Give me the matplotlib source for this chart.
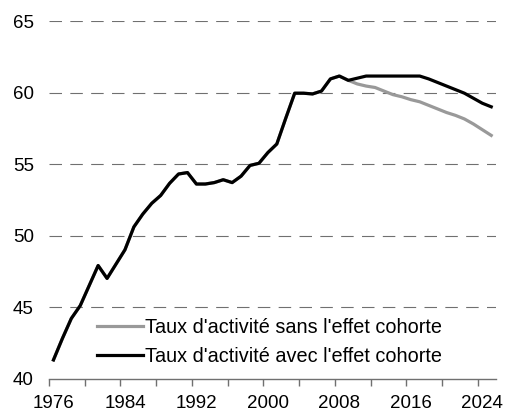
import numpy as np
import matplotlib.pyplot as plt

plt.rcParams['font.family'] = ['Liberation Sans', 'DejaVu Sans']
plt.rcParams['lines.scale_dashes'] = False

years = list(range(1976, 2026))

# taux d'activite avec l'effet cohorte (1976-2025)
avec_cohorte = [41.3, 42.8, 44.2, 45.1, 46.5, 47.9, 47.0, 48.0, 49.0, 50.6,
                51.5, 52.25, 52.8, 53.65, 54.3, 54.4, 53.6, 53.6, 53.7, 53.9,
                53.7, 54.15, 54.9, 55.05, 55.8, 56.4, 58.2, 59.95, 59.95, 59.9,
                60.1, 60.95, 61.15, 60.85, 61.0, 61.15, 61.15, 61.15, 61.15, 61.15,
                61.15, 61.15, 60.95, 60.7, 60.45, 60.2, 59.95, 59.6, 59.25, 59.0]

# sans l'effet cohorte : identique jusqu'en 2009 puis diverge
sans_cohorte = avec_cohorte[:34] + [60.6, 60.45, 60.35, 60.1, 59.85, 59.7, 59.5, 59.35,
                                    59.1, 58.85, 58.6, 58.4, 58.15, 57.8, 57.4, 57.0]

label_sans = "Taux d'activité sans l'effet cohorte"
label_avec = "Taux d'activité avec l'effet cohorte"

fig = plt.figure(figsize=(5.06, 4.15), dpi=100)
ax = fig.add_axes([49 / 506, 1 - 378.5 / 415, (495.7 - 49) / 506, (378.5 - 21) / 415])

ax.plot(years, sans_cohorte, color='#999999', lw=2.3, label=label_sans,
        solid_joinstyle='round', zorder=3)
ax.plot(years, avec_cohorte, color='black', lw=2.3, label=label_avec,
        solid_joinstyle='round', zorder=4)

ax.set_xlim(1975.5, 2025.5)
ax.set_ylim(40, 65)

# grille horizontale en tirets
for v in [45, 50, 55, 60, 65]:
    ax.axhline(v, color='#707070', lw=0.8, linestyle=(0, (9, 6)), zorder=1)

for s in ['left', 'right', 'top']:
    ax.spines[s].set_visible(False)
ax.spines['bottom'].set_color('#707070')
ax.spines['bottom'].set_linewidth(1.0)

ax.set_yticks([40, 45, 50, 55, 60, 65])
ax.tick_params(axis='y', length=0, pad=11, labelsize=13.5)

# graduations entre les annees, etiquettes centrees sur l'annee
ax.set_xticks(np.arange(1975.5, 2025, 4))
ax.set_xticklabels([])
ax.set_xticks(np.arange(1976, 2026, 8), minor=True)
ax.set_xticklabels([str(y) for y in range(1976, 2026, 8)], minor=True)
ax.tick_params(axis='x', which='major', length=5, width=1.0, color='#707070', direction='out')
ax.tick_params(axis='x', which='minor', length=0, pad=12, labelsize=13.5)

ax.legend(loc='lower left', bbox_to_anchor=(0.09, 0.012), frameon=False,
          fontsize=14.3, handlelength=2.3, handletextpad=0.1, labelspacing=0.5,
          borderaxespad=0)

fig.savefig('out.png', dpi=100)
